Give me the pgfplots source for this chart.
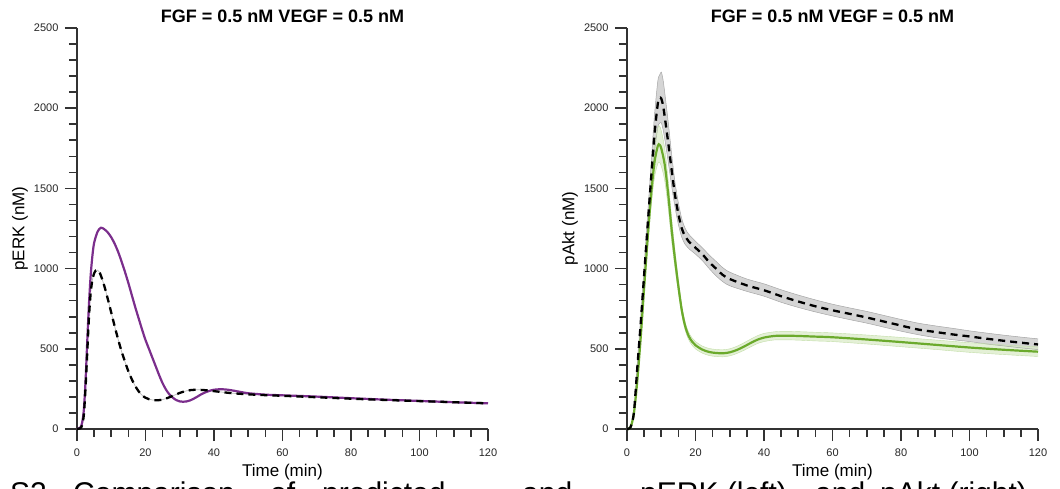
\documentclass[border=0pt]{standalone}
\usepackage{pgfplots}
\pgfplotsset{compat=1.18}
\usepackage{pgfplotstable}
\usepgfplotslibrary{fillbetween}
\usepackage{fontspec}
\setmainfont{Liberation Sans}
\definecolor{erkpurple}{HTML}{7B2E8C}
\definecolor{aktgreen}{HTML}{6BAA2C}
\definecolor{bandgreen}{HTML}{D8EAC5}
\definecolor{bandgray}{HTML}{D3D3D3}
\definecolor{axcol}{HTML}{333333}

% pERK, model (purple)
\pgfplotstableread{
t v
0 0
1 10
1.5 40
2 120
2.5 300
3 550
3.5 780
4 960
4.5 1080
5 1160
6 1230
7 1255
8 1245
9 1225
10 1195
11 1155
12 1105
13 1045
14 980
15 910
16 835
17 760
18 690
19 620
20 555
21 500
22 445
23 390
24 335
25 285
26 245
27 215
28 195
29 180
30 172
31 170
32 172
33 178
34 188
35 200
36 213
37 224
38 233
39 240
40 245
42 248
44 245
46 238
48 230
50 223
55 214
60 210
70 202
80 192
90 183
100 175
110 167
120 160
}\erkmodel

% pERK, reference (black dashed)
\pgfplotstableread{
t v
0 0
1 5
1.5 25
2 90
2.5 260
3 480
3.5 700
4 850
4.5 930
5 970
5.5 988
6 990
6.5 980
7 955
8 890
9 810
10 725
11 640
12 560
13 485
14 420
15 360
16 310
17 268
18 235
19 210
20 195
21 186
22 181
23 179
24 180
25 183
26 190
27 198
28 207
29 216
30 225
31 232
32 238
33 242
34 244
35 245
36 244
38 241
40 236
42 231
44 226
46 222
48 219
50 216
55 211
60 207
70 198
80 189
90 181
100 174
110 167
120 160
}\erkref

% pAkt, reference (black dashed) with band
\pgfplotstableread{
t v lo hi
0 0 0 0
1 10 8 12
2 100 90 110
3 380 350 410
4 660 620 700
5 960 905 1015
6 1260 1190 1330
7 1550 1460 1640
8 1830 1720 1950
9 2030 1880 2170
9.5 2065 1905 2205
10 2060 1910 2225
10.5 2020 1870 2180
11 1950 1810 2100
12 1790 1670 1920
13 1620 1520 1720
14 1460 1385 1540
15 1340 1275 1410
16 1250 1195 1310
17 1200 1150 1250
18 1170 1125 1215
20 1130 1090 1170
22 1090 1050 1130
24 1040 1000 1085
26 1000 955 1045
28 960 918 1005
30 935 893 978
35 895 858 935
40 865 828 905
45 828 790 868
50 795 758 835
55 765 730 805
60 740 705 778
65 718 682 755
70 695 660 733
75 670 635 708
80 645 610 683
85 620 588 660
90 605 570 643
95 590 557 628
100 577 545 612
105 563 530 598
110 550 518 585
115 538 506 573
120 527 495 562
}\aktref

% pAkt, model (green) with band
\pgfplotstableread{
t v lo hi
0 0 0 0
1 10 8 12
2 95 85 105
3 300 280 320
4 570 540 600
5 880 835 925
6 1180 1120 1240
7 1450 1375 1525
8 1660 1565 1760
9 1765 1655 1880
9.5 1772 1660 1888
10 1750 1640 1860
11 1650 1550 1750
12 1470 1385 1555
13 1250 1180 1320
14 1060 1005 1115
15 890 850 930
16 740 710 770
17 640 615 665
18 580 557 603
19 545 522 568
20 522 499 545
22 495 473 517
24 480 458 502
26 474 452 496
28 472 450 494
30 478 456 500
32 492 470 515
34 512 489 536
36 535 511 559
38 556 532 581
40 570 545 596
43 580 555 606
46 582 556 609
50 580 554 607
55 576 549 603
60 572 545 599
70 558 530 586
80 542 513 571
90 525 496 555
100 508 478 538
110 494 464 524
120 482 452 512
}\aktmodel

\pgfplotsset{myax/.style={
  scale only axis, width=411pt, height=401pt,
  xmin=0, xmax=120, ymin=0, ymax=2500,
  axis x line*=bottom, axis y line*=left,
  axis line style={-, line width=1.8pt, color=axcol},
  xtick={0,20,...,120}, minor x tick num=3,
  ytick={0,500,...,2500}, minor y tick num=4,
  tick align=outside, major tick length=12pt, minor tick length=8pt,
  tick style={line width=1.6pt, color=axcol},
  tick label style={font=\fontsize{11}{13}\selectfont, text=black!85},
  xticklabel style={yshift=-4pt},
  yticklabel style={xshift=-3pt},
  /pgf/number format/assume math mode=true,
  /pgf/number format/1000 sep={},
  label style={font=\fontsize{17}{20}\selectfont},
  title style={font=\fontsize{18}{21}\selectfont\bfseries, at={(axis description cs:0.5,1)}, anchor=base, inner sep=0pt, yshift=0pt},
  xlabel style={at={(axis description cs:0.5,-0.1072)}, anchor=center},
  ylabel style={at={(axis description cs:-0.1387,0.5)}, anchor=center},
  xlabel={Time (min)},
  title={FGF = 0.5 nM VEGF = 0.5 nM},
  clip=false,
}}

\begin{document}
\begin{tikzpicture}[x=1pt,y=1pt]

\begin{axis}[myax, at={(77pt,59pt)}, anchor=south west, ylabel={pERK (nM)}]
  \addplot[gray!55, line width=0.7pt, smooth] table[x=t,y=v] {\erkref};
  \addplot[erkpurple, line width=2.2pt, smooth] table[x=t,y=v] {\erkmodel};
  \addplot[black, line width=2.3pt, dash pattern=on 7pt off 5pt, smooth] table[x=t,y=v] {\erkref};
\end{axis}

\begin{axis}[myax, at={(627pt,59pt)}, anchor=south west, ylabel={pAkt (nM)}]
  \addplot[name path=ah, draw=gray!70, line width=0.5pt, smooth] table[x=t,y=hi] {\aktref};
  \addplot[name path=al, draw=gray!70, line width=0.5pt, smooth] table[x=t,y=lo] {\aktref};
  \addplot[bandgray, fill opacity=0.95] fill between[of=ah and al];
  \addplot[name path=gh, draw=bandgreen!80!aktgreen, line width=0.4pt, smooth] table[x=t,y=hi] {\aktmodel};
  \addplot[name path=gl, draw=bandgreen!80!aktgreen, line width=0.4pt, smooth] table[x=t,y=lo] {\aktmodel};
  \addplot[bandgreen, fill opacity=0.7] fill between[of=gh and gl];
  \addplot[aktgreen, line width=2.2pt, smooth] table[x=t,y=v] {\aktmodel};
  \addplot[black, line width=2.3pt, dash pattern=on 7pt off 5pt, smooth] table[x=t,y=v] {\aktref};
\end{axis}

\begin{scope}[font=\fontsize{30}{34}\selectfont]
\node[anchor=base west, inner sep=0pt] at (10,-15) {S2.};
\node[anchor=base west, inner sep=0pt] at (73,-15) {Comparison};
\node[anchor=base west, inner sep=0pt] at (270,-15) {of};
\node[anchor=base west, inner sep=0pt] at (322,-15) {predicted};
\node[anchor=base west, inner sep=0pt] at (522,-15) {and};
\node[anchor=base west, inner sep=0pt] at (640,-15) {pERK (left)};
\node[anchor=base west, inner sep=0pt] at (815,-15) {and};
\node[anchor=base west, inner sep=0pt] at (880,-15) {pAkt (right)};
\end{scope}

\pgfresetboundingbox
\path[use as bounding box] (0,0) rectangle (1060,488);
\end{tikzpicture}
\end{document}
